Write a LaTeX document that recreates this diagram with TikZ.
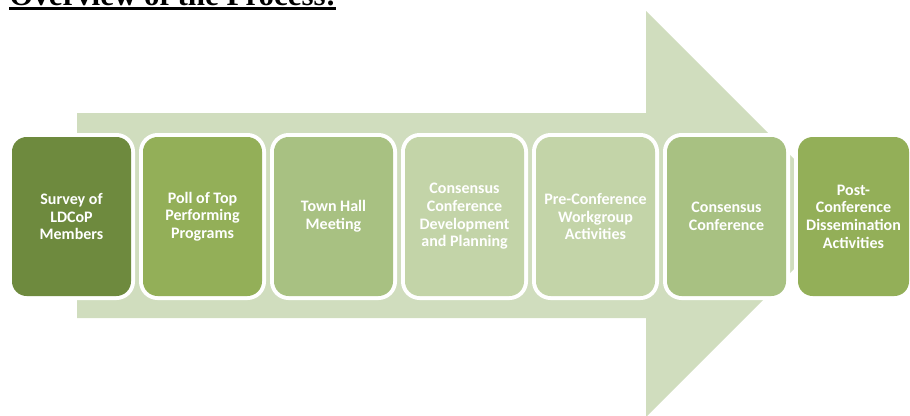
\documentclass[tikz,border=0pt]{standalone}
\usepackage{fontspec}
\setmainfont{Carlito}
\newfontfamily\timesfont{Liberation Serif}
\definecolor{arrowgreen}{HTML}{D0DDBE}
\definecolor{olivedark}{HTML}{6E8A3E}
\definecolor{olivemid}{HTML}{93AF58}
\definecolor{olivelight}{HTML}{A8C182}
\definecolor{olivepale}{HTML}{C3D4A8}

\begin{document}
\begin{tikzpicture}[x=0.75pt, y=-0.75pt,
  stage/.style={rounded corners=11pt, minimum width=89.25pt, minimum height=119.25pt,
    inner sep=0pt, outer sep=0pt, align=center, text=white,
    font=\fontsize{12}{13.2}\selectfont\bfseries,
    preaction={draw=white, line width=6pt}}]
  \useasboundingbox (0,0) rectangle (910,415);
  \clip (0,0) rectangle (910,415);
  \node[anchor=base west, inner sep=0pt, font=\timesfont\fontsize{23.2}{28}\selectfont\bfseries] (title) at (9,5.5) {Overview of the Process:};
  \draw[line width=2.25pt] ([yshift=-2.6pt]title.base west) -- ([yshift=-2.6pt]title.base east);
  \fill[arrowgreen] (77,113) -- (646,113) -- (646,11) -- (849,214) -- (646,417) -- (646,318) -- (77,318) -- cycle;
  \foreach \x/\c/\n/\t in {71.5/olivedark/survey/{Survey of\\LDCoP\\Members},
      202.5/olivemid/poll/{Poll of Top\\Performing\\Programs},
      333.5/olivelight/townhall/{Town Hall\\Meeting},
      464.5/olivepale/planning/{Consensus\\Conference\\Development\\and Planning},
      595.5/olivepale/workgroup/{Pre-Conference\\Workgroup\\Activities},
      726.5/olivelight/conference/{Consensus\\Conference}}
    \node[stage, fill=\c] (\n) at (\x,216.5) {\t};
  \node[stage, fill=olivemid, minimum width=83.25pt] (dissemination) at (853.5,216.5) {Post-\\Conference\\Dissemination\\Activities};
\end{tikzpicture}
\end{document}
